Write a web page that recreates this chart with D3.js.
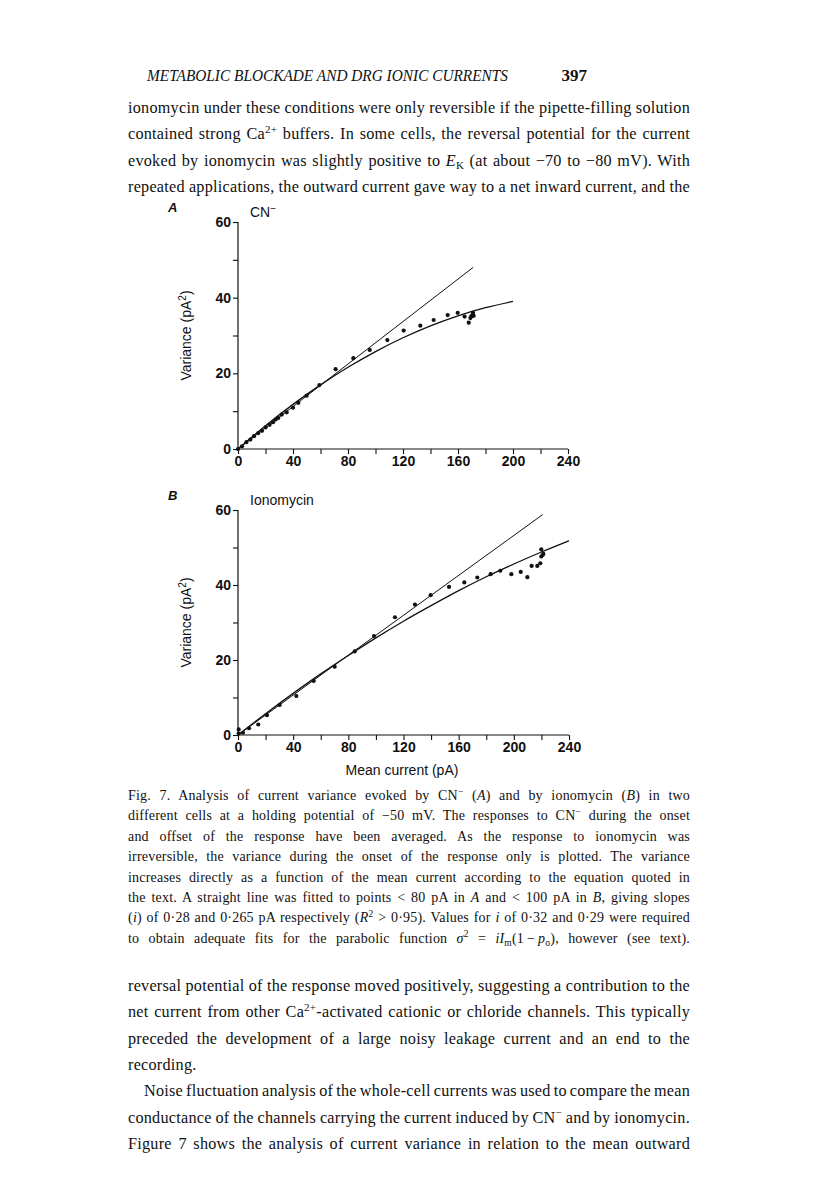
<!DOCTYPE html>
<html>
<head>
<meta charset="utf-8">
<script src="https://cdn.jsdelivr.net/npm/d3@7"></script>
<style>
  body { margin: 0; background: #fff; }
  svg { display: block; }
</style>
</head>
<body>
<script>
const width = 816;
const height = 1191;

// ---- panel A (CN-) : [mean current pA, variance pA^2]
const cnPoints = [
  [0, 0], [2.9, 0.7], [6.1, 1.8], [9, 2.5], [11.6, 3.4], [14.8, 4.2], [17.5, 4.8],
  [20.1, 5.7], [23, 6.4], [25.5, 7.1], [27.4, 7.8], [29.3, 8.2], [31.8, 9.1],
  [35.4, 9.7], [40, 10.9], [43.9, 12.2], [49.9, 14.1], [59.2, 16.9], [71, 21.1],
  [83.9, 24], [95.8, 26.2], [108.6, 28.8], [120.5, 31.3], [132.6, 32.6],
  [142.3, 34.1], [152.5, 35.4], [159.8, 36], [164.8, 35], [167.8, 33.4],
  [169, 34.6], [169.7, 35.1], [170.7, 35.4], [170.9, 36], [171.4, 35.2]
];
const cnLine = [[0, 0], [171, 48]];
const cnCurve = [
  [0, 0], [20, 6.15], [40, 11.8], [60, 16.95], [80, 21.6], [100, 25.75],
  [120, 29.4], [140, 32.55], [160, 35.2], [180, 37.35], [200, 39]
];

// ---- panel B (ionomycin)
const ionoPoints = [
  [0.5, 1.5], [0.5, 0.4], [3.6, 0.6], [8, 1.8], [14.7, 2.8], [21, 5.3], [30.2, 8],
  [42.3, 10.4], [54.9, 14.4], [70.1, 18.2], [84.6, 22.3], [98.6, 26.4],
  [113.8, 31.4], [128.3, 34.8], [139.7, 37.3], [153, 39.5], [164.1, 40.7],
  [173.5, 42], [183.2, 42.9], [190.2, 43.8], [198.2, 42.9], [205, 43.5],
  [209.8, 42.1], [212.9, 45.1], [217, 45.1], [219.2, 45.8], [219.9, 49.5],
  [219.9, 47.6], [220.9, 48], [221.4, 48.3]
];
const ionoLine = [[0, 0], [221, 58.8]];
const ionoCurve = [
  [0, 0], [20, 5.68], [40, 11.1], [60, 16.3], [80, 21.2], [100, 25.9],
  [120, 30.35], [140, 34.5], [160, 38.5], [180, 42.2], [200, 45.6],
  [220, 48.8], [240, 51.8]
];

const xTicks = [0, 20, 40, 60, 80, 100, 120, 140, 160, 180, 200, 220, 240];
const yTicks = [0, 10, 20, 30, 40, 50, 60];

// ---- page text
const headerText = 'METABOLIC BLOCKADE AND DRG IONIC CURRENTS';
const pageNumber = '397';
const topLines = [
  'ionomycin under these conditions were only reversible if the pipette-filling solution',
  'contained strong Ca^{2+} buffers. In some cells, the reversal potential for the current',
  'evoked by ionomycin was slightly positive to *E*_{K} (at about \u221270 to \u221280 mV). With',
  'repeated applications, the outward current gave way to a net inward current, and the'
];
const captionLines = [
  'Fig. 7. Analysis of current variance evoked by CN^{\u2212} (*A*) and by ionomycin (*B*) in two',
  'different cells at a holding potential of \u221250 mV. The responses to CN^{\u2212} during the onset',
  'and offset of the response have been averaged. As the response to ionomycin was',
  'irreversible, the variance during the onset of the response only is plotted. The variance',
  'increases directly as a function of the mean current according to the equation quoted in',
  'the text. A straight line was fitted to points < 80 pA in *A* and < 100 pA in *B*, giving slopes',
  '(*i*) of 0\u00b728 and 0\u00b7265 pA respectively (*R*^{2} > 0\u00b795). Values for *i* of 0\u00b732 and 0\u00b729 were required',
  'to obtain adequate fits for the parabolic function *\u03c3*^{2} = *iI*_{m}(1\u2009\u2212\u2009*p*_{o}), however (see text).'
];
const bottomLines = [
  'reversal potential of the response moved positively, suggesting a contribution to the',
  'net current from other Ca^{2+}-activated cationic or chloride channels. This typically',
  'preceded the development of a large noisy leakage current and an end to the',
  'recording.',
  'Noise fluctuation analysis of the whole-cell currents was used to compare the mean',
  'conductance of the channels carrying the current induced by CN^{\u2212} and by ionomycin.',
  'Figure 7 shows the analysis of current variance in relation to the mean outward'
];

const svg = d3.select('body').append('svg')
  .attr('width', width)
  .attr('height', height);

svg.append('rect').attr('width', width).attr('height', height).attr('fill', '#fff');

const serif = '"Liberation Serif", "DejaVu Serif", serif';
const sans = '"Liberation Sans", Arial, sans-serif';

// write one line with simple markup: *italic*, ^{sup}, _{sub}
function writeLine(str, x, y, size, opts = {}) {
  const t = svg.append('text')
    .attr('x', x).attr('y', y)
    .attr('font-family', serif)
    .attr('font-size', size)
    .attr('fill', '#111');
  const parts = str.split(/(\^\{[^}]*\}|_\{[^}]*\}|\*[^*]*\*)/).filter(s => s.length);
  let shift = 0;
  let chars = 0;
  parts.forEach(p => {
    const sp = t.append('tspan');
    let dy = -shift;
    shift = 0;
    if (p.startsWith('^{')) {
      sp.text(p.slice(2, -1)).attr('font-size', size * 0.68);
      shift = -size * 0.38;
    } else if (p.startsWith('_{')) {
      sp.text(p.slice(2, -1)).attr('font-size', size * 0.68);
      shift = size * 0.2;
    } else if (p.startsWith('*')) {
      sp.text(p.slice(1, -1)).attr('font-style', 'italic');
    } else {
      sp.text(p);
    }
    chars += sp.text().length;
    dy += shift;
    if (dy) sp.attr('dy', dy);
  });
  // a little letter spacing gives the wide look of the print face
  const ls = opts.letter || 0;
  if (ls) t.attr('letter-spacing', ls);
  if (opts.justify) {
    const len = t.node().getComputedTextLength();
    const target = opts.justify - (x - opts.left);
    const spaces = (str.match(/ /g) || []).length;
    if (spaces) t.attr('word-spacing', (target - len) / spaces);
  }
  return t;
}

// header
svg.append('text')
  .attr('x', 147).attr('y', 81)
  .attr('font-family', serif).attr('font-style', 'italic')
  .attr('font-size', 17).attr('fill', '#111')
  .attr('textLength', 361).attr('lengthAdjust', 'spacingAndGlyphs')
  .text(headerText);
svg.append('text')
  .attr('x', 587).attr('y', 81).attr('text-anchor', 'end')
  .attr('font-family', serif).attr('font-size', 17).attr('fill', '#111')
  .attr('font-weight', 'bold')
  .text(pageNumber);

const left = 128, textW = 562;
topLines.forEach((s, i) => writeLine(s, left, 113 + i * 26.3, 16.2, { justify: textW, left, letter: 0.25 }));
captionLines.forEach((s, i) => writeLine(s, left, 800 + i * 20.4, 14, { justify: textW, left, letter: 0.2 }));
bottomLines.forEach((s, i) => {
  const indent = i === 4 ? 16 : 0;
  writeLine(s, left + indent, 991 + i * 26.3, 16.2,
    i === 3 ? { letter: 0.25 } : { justify: textW, left, letter: 0.25 });
});

// ---- charts
function drawPanel(cfg) {
  const x = d3.scaleLinear().domain([0, 240]).range([238, cfg.xEnd]);
  const y = d3.scaleLinear().domain([0, 60]).range([cfg.y0, cfg.y60]);
  const g = svg.append('g');

  const xAxis = g.append('g')
    .attr('transform', `translate(0,${cfg.y0})`)
    .call(d3.axisBottom(x).tickValues(xTicks).tickSize(5).tickPadding(2)
      .tickFormat(d => d % 40 === 0 ? d : ''));
  const yAxis = g.append('g')
    .attr('transform', 'translate(238,0)')
    .call(d3.axisLeft(y).tickValues(yTicks).tickSize(5).tickPadding(2)
      .tickFormat(d => d % 20 === 0 ? d : ''));
  [xAxis, yAxis].forEach(a => {
    a.select('.domain').attr('stroke', '#111').attr('stroke-width', 1.2);
    a.selectAll('.tick line').attr('stroke', '#111').attr('stroke-width', 1.1);
    a.selectAll('.tick text')
      .attr('font-family', sans).attr('font-size', 14).attr('font-weight', 'bold')
      .attr('fill', '#111');
  });
  // remove the outer end-caps d3 draws on the domain path
  xAxis.select('.domain').attr('d', `M${x(0)},0H${x(240)}`);
  yAxis.select('.domain').attr('d', `M0,${y(0)}V${y(60)}`);

  const line = d3.line().x(d => x(d[0])).y(d => y(d[1]));
  g.append('path').datum(cfg.line).attr('d', line)
    .attr('fill', 'none').attr('stroke', '#111').attr('stroke-width', 1);
  g.append('path').datum(cfg.curve).attr('d', line.curve(d3.curveMonotoneX))
    .attr('fill', 'none').attr('stroke', '#111').attr('stroke-width', 1.3);
  g.selectAll('circle').data(cfg.points).join('circle')
    .attr('cx', d => x(d[0])).attr('cy', d => y(d[1])).attr('r', 2.1)
    .attr('fill', '#111');

  // panel letter and label
  svg.append('text').attr('x', 168).attr('y', cfg.y60 - 10)
    .attr('font-family', sans).attr('font-style', 'italic').attr('font-weight', 'bold')
    .attr('font-size', 13).attr('fill', '#111').text(cfg.letter);
  const lab = svg.append('text').attr('x', 250).attr('y', cfg.y60 - 5)
    .attr('font-family', sans).attr('font-size', 14).attr('fill', '#111');
  lab.append('tspan').text(cfg.label);
  if (cfg.sup) lab.append('tspan').attr('dy', -5).attr('font-size', 10).text(cfg.sup);

  const yl = svg.append('text')
    .attr('transform', `translate(191,${(cfg.y0 + cfg.y60) / 2}) rotate(-90)`)
    .attr('text-anchor', 'middle')
    .attr('font-family', sans).attr('font-size', 14).attr('fill', '#111');
  yl.append('tspan').text('Variance (pA');
  yl.append('tspan').attr('dy', -5).attr('font-size', 10).text('2');
  yl.append('tspan').attr('dy', 5).text(')');
}

drawPanel({ letter: 'A', label: 'CN', sup: '\u2212', xEnd: 568, y0: 449, y60: 222,
  points: cnPoints, line: cnLine, curve: cnCurve });
drawPanel({ letter: 'B', label: 'Ionomycin', xEnd: 569, y0: 735, y60: 510,
  points: ionoPoints, line: ionoLine, curve: ionoCurve });

svg.append('text')
  .attr('x', 402).attr('y', 775).attr('text-anchor', 'middle')
  .attr('font-family', sans).attr('font-size', 14).attr('fill', '#111')
  .text('Mean current (pA)');
</script>
</body>
</html>
